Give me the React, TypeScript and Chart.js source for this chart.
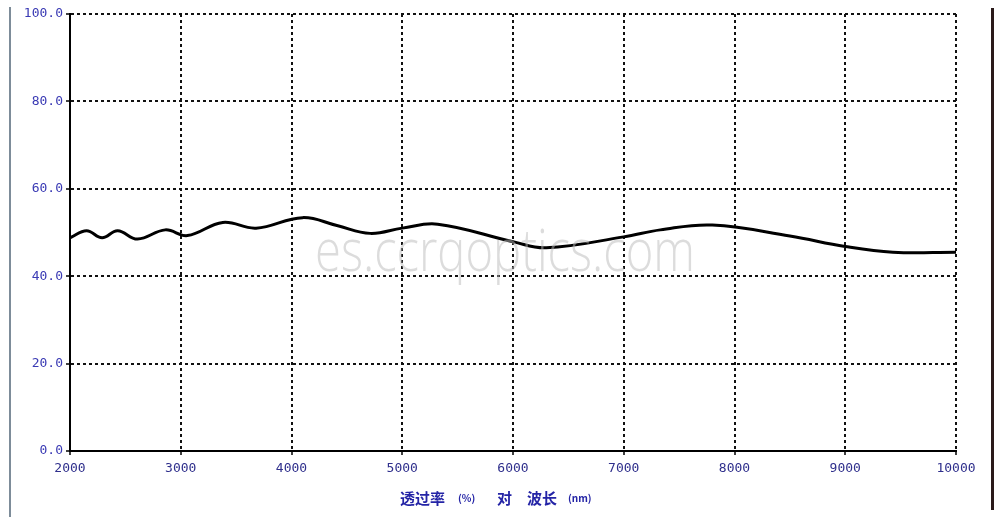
import React, { useEffect, useRef } from "react";
import { Chart, registerables } from "chart.js";

Chart.register(...registerables);

// Wavelength (nm) and transmittance (%)
const wavelengths = [2000, 2150, 2290, 2430, 2610, 2860, 3060, 3380, 3680, 4100, 4410, 4710, 5000, 5320, 6000, 6300, 7000, 7330, 7800, 8500, 9000, 9430, 10000];
const transmittance = [48.8, 50.4, 48.8, 50.4, 48.5, 50.6, 49.3, 52.3, 51.0, 53.4, 51.6, 49.8, 51.0, 51.9, 47.9, 46.5, 49.0, 50.6, 51.7, 49.2, 46.8, 45.5, 45.5];

const xTickValues = [2000, 3000, 4000, 5000, 6000, 7000, 8000, 9000, 10000];
const xTickLabels = ["2000", "3000", "4000", "5000", "6000", "7000", "8000", "9000", "10000"];
const yTickValues = [0, 20, 40, 60, 80, 100];
const yTickLabels = ["0.0", "20.0", "40.0", "60.0", "80.0", "100.0"];

const titleParts = ["透过率", "(%)", "对", "波长", "(nm)"];
const watermarkText = "es.ccrqoptics.com";

const decorPlugin = {
  id: "decor",
  afterDraw(chart: any) {
    const ctx = chart.ctx as CanvasRenderingContext2D;
    ctx.save();
    // side frame lines
    ctx.lineWidth = 2;
    ctx.strokeStyle = "#7d8c99";
    ctx.beginPath();
    ctx.moveTo(10, 7);
    ctx.lineTo(10, 517);
    ctx.stroke();
    ctx.lineWidth = 3;
    ctx.strokeStyle = "#2a1a1a";
    ctx.beginPath();
    ctx.moveTo(992.5, 8);
    ctx.lineTo(992.5, 510);
    ctx.stroke();

    // axis title (drawn in pieces to keep the original spacing)
    ctx.fillStyle = "#2424a6";
    ctx.textBaseline = "middle";
    ctx.textAlign = "left";
    const big = "bold 15px 'Noto Sans CJK SC'";
    const small = "bold 10px 'Noto Sans CJK SC'";
    const xs = [400, 458, 497, 527, 568];
    titleParts.forEach((t, i) => {
      ctx.font = i === 1 || i === 4 ? small : big;
      ctx.fillText(t, xs[i], 498);
    });

    // watermark
    ctx.font = "300 58px 'Open Sans'";
    ctx.fillStyle = "rgba(185,185,185,0.5)";
    ctx.textAlign = "center";
    ctx.textBaseline = "middle";
    ctx.fillText(watermarkText, 505, 254, 380);
    ctx.restore();
  },
};

export default function App() {
  const ref = useRef<HTMLCanvasElement | null>(null);

  useEffect(() => {
    if (!ref.current) return;
    const data = wavelengths.map((w, i) => ({ x: w, y: transmittance[i] }));
    const chart = new Chart(ref.current, {
      type: "line",
      data: {
        datasets: [
          {
            data,
            borderColor: "#000000",
            borderWidth: 3,
            pointRadius: 0,
            tension: 0.4,
            fill: false,
          },
        ],
      },
      options: {
        animation: false,
        responsive: false,
        devicePixelRatio: 1,
        layout: { padding: { left: 8, right: 51, top: 14, bottom: 0 } },
        plugins: { legend: { display: false }, tooltip: { enabled: false } },
        scales: {
          x: {
            type: "linear",
            min: 2000,
            max: 10000,
            afterBuildTicks: (scale: any) => {
              scale.ticks = xTickValues.map((v) => ({ value: v }));
            },
            afterFit: (scale: any) => {
              scale.height = 66;
            },
            ticks: {
              autoSkip: false,
              maxRotation: 0,
              padding: 6,
              color: "#2f2f8c",
              font: { family: "'DejaVu Sans Mono'", size: 13 },
              callback: (v: any) => {
                const i = xTickValues.indexOf(Number(v));
                return i >= 0 ? xTickLabels[i] : "";
              },
            },
            grid: {
              color: "#111111",
              lineWidth: 2,
              drawTicks: true,
              tickLength: 4,
              tickWidth: 1.5,
              tickColor: "#000000",
            },
            border: { display: true, color: "#000000", width: 2, dash: [3, 3] },
          },
          y: {
            type: "linear",
            min: 0,
            max: 100,
            afterBuildTicks: (scale: any) => {
              scale.ticks = yTickValues.map((v) => ({ value: v }));
            },
            afterFit: (scale: any) => {
              scale.width = 62;
            },
            ticks: {
              autoSkip: false,
              padding: 3,
              color: "#3a3ab4",
              font: { family: "'DejaVu Sans Mono'", size: 13 },
              callback: (v: any) => {
                const i = yTickValues.indexOf(Number(v));
                return i >= 0 ? yTickLabels[i] : "";
              },
            },
            grid: {
              color: "#111111",
              lineWidth: 2,
              drawTicks: true,
              tickLength: 4,
              tickWidth: 1.5,
              tickColor: "#000000",
            },
            border: { display: true, color: "#000000", width: 2, dash: [3, 3] },
          },
        },
      },
      plugins: [decorPlugin],
    });
    return () => chart.destroy();
  }, []);

  return (
    <div style={{ position: "absolute", left: 0, top: 0, width: 1007, height: 517, background: "#ffffff" }}>
      <canvas ref={ref} width={1007} height={517} style={{ display: "block" }} />
    </div>
  );
}
